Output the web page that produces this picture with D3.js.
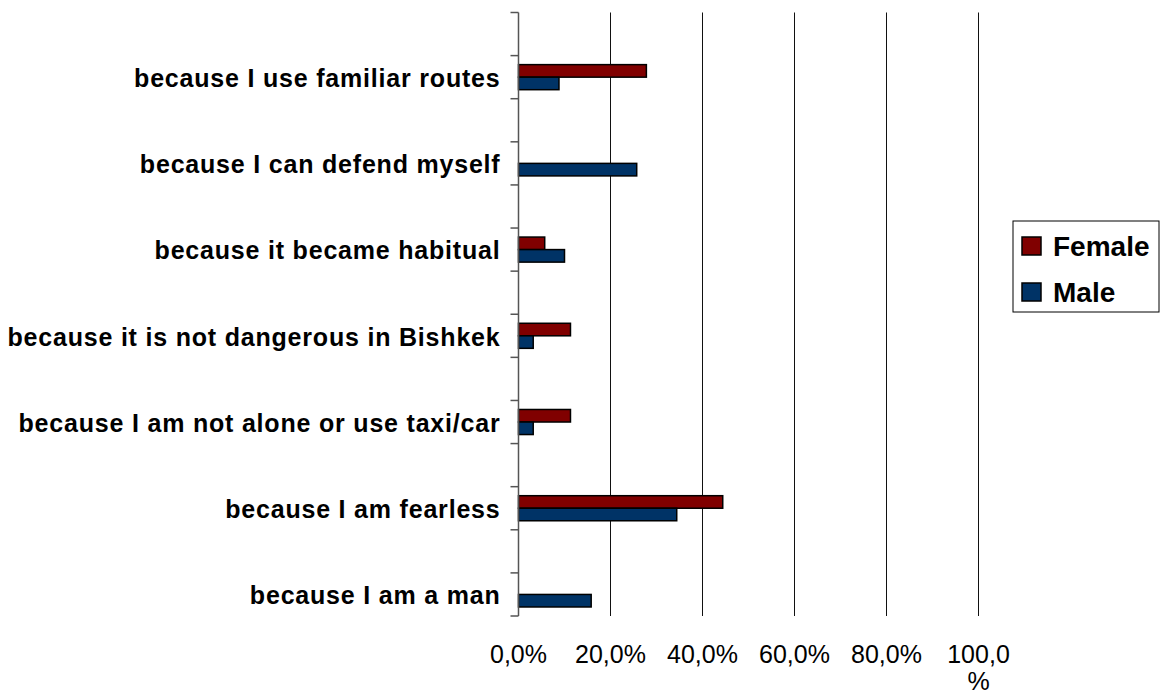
<!DOCTYPE html>
<html>
<head>
<meta charset="utf-8">
<script src="https://cdn.jsdelivr.net/npm/d3@7"></script>
<style>
  body { margin: 0; background: #fff; }
  svg { display: block; font-family: "Liberation Sans", Arial, sans-serif; }
</style>
</head>
<body>
<script>
// Reasons, from top to bottom (each one is followed by an empty slot in the chart)
var categories = [
  "because I use familiar routes",
  "because I can defend myself",
  "because it became habitual",
  "because it is not dangerous in Bishkek",
  "because I am not alone or use taxi/car",
  "because I am fearless",
  "because I am a man"
];
var series = ["Female", "Male"];
var femaleValues = [27.8, null, 5.7, 11.3, 11.3, 44.4, null];
var maleValues   = [8.8, 25.7, 10.0, 3.2, 3.2, 34.4, 15.8];
var tickValues = [0, 20, 40, 60, 80, 100];
var tickLabels = ["0,0%", "20,0%", "40,0%", "60,0%", "80,0%", "100,0%"];
var colors = { Female: "#800000", Male: "#003366" };

var width = 1160, height = 695;
var plot = { left: 518.5, right: 978.5, top: 12.5, bottom: 616 };

var svg = d3.select("body").append("svg")
    .attr("width", width)
    .attr("height", height);

// 14 slots: one blank slot above every reason
var slots = [];
categories.forEach(function (c, i) {
  slots.push("blank" + i);
  slots.push(c);
});

var x = d3.scaleLinear().domain([0, 100]).range([plot.left, plot.right]);
var y = d3.scaleBand().domain(slots).range([plot.top, plot.bottom]).paddingInner(0);
var ySub = d3.scaleBand().domain(series).range([0, y.bandwidth()]).paddingOuter(0.72).paddingInner(0);

// gridlines
svg.append("g")
  .selectAll("line")
  .data(tickValues.slice(1))
  .enter().append("line")
    .attr("x1", function (d) { return x(d); })
    .attr("x2", function (d) { return x(d); })
    .attr("y1", plot.top)
    .attr("y2", plot.bottom)
    .attr("stroke", "#111")
    .attr("stroke-width", 1);

// bars
var rows = [];
categories.forEach(function (c, i) {
  rows.push({ cat: c, s: "Female", v: femaleValues[i] });
  rows.push({ cat: c, s: "Male", v: maleValues[i] });
});

svg.append("g")
  .selectAll("rect")
  .data(rows.filter(function (d) { return d.v != null; }))
  .enter().append("rect")
    .attr("x", x(0))
    .attr("y", function (d) { return y(d.cat) + ySub(d.s); })
    .attr("width", function (d) { return x(d.v) - x(0); })
    .attr("height", ySub.bandwidth())
    .attr("fill", function (d) { return colors[d.s]; })
    .attr("stroke", "#000")
    .attr("stroke-width", 1.5);

// left axis with ticks at slot boundaries
var yAxis = svg.append("g");
yAxis.append("line")
  .attr("x1", plot.left).attr("x2", plot.left)
  .attr("y1", plot.top).attr("y2", plot.bottom)
  .attr("stroke", "#555").attr("stroke-width", 1.5);
var bounds = slots.map(function (s) { return y(s); }).concat([plot.bottom]);
yAxis.selectAll(".tick")
  .data(bounds)
  .enter().append("line")
    .attr("class", "tick")
    .attr("x1", plot.left - 8).attr("x2", plot.left)
    .attr("y1", function (d) { return d; })
    .attr("y2", function (d) { return d; })
    .attr("stroke", "#555").attr("stroke-width", 1.5);

// category labels
svg.append("g")
  .selectAll("text")
  .data(categories)
  .enter().append("text")
    .attr("x", plot.left - 18)
    .attr("y", function (d) { return y(d) + y.bandwidth() / 2 + 1; })
    .attr("dy", "0.35em")
    .attr("text-anchor", "end")
    .attr("font-size", 25)
    .attr("font-weight", "bold")
    .attr("letter-spacing", 0.8)
    .text(function (d) { return d; });

// x tick labels (the last one wraps like in the original)
var xl = svg.append("g")
  .selectAll("text")
  .data(tickValues)
  .enter().append("text")
    .attr("x", function (d) { return x(d); })
    .attr("y", 663)
    .attr("text-anchor", "middle")
    .attr("font-size", 25)
    .attr("fill", "#000");
xl.each(function (d, i) {
  var t = d3.select(this);
  var label = tickLabels[i];
  if (label.length > 5) {
    t.append("tspan").attr("x", x(d)).text(label.slice(0, 5));
    t.append("tspan").attr("x", x(d)).attr("dy", 27).text(label.slice(5));
  } else {
    t.text(label);
  }
});

// legend
var legend = svg.append("g").attr("transform", "translate(1013,221)");
legend.append("rect")
  .attr("width", 146).attr("height", 91)
  .attr("fill", "#fff").attr("stroke", "#000").attr("stroke-width", 1);
var items = legend.selectAll(".item")
  .data(series)
  .enter().append("g")
    .attr("class", "item")
    .attr("transform", function (d, i) { return "translate(9," + (16 + i * 46) + ")"; });
items.append("rect")
  .attr("width", 19).attr("height", 18)
  .attr("fill", function (d) { return colors[d]; })
  .attr("stroke", "#000").attr("stroke-width", 1.5);
items.append("text")
  .attr("x", 31).attr("y", 19)
  .attr("font-size", 28)
  .attr("font-weight", "bold")
  .text(function (d) { return d; });
</script>
</body>
</html>
